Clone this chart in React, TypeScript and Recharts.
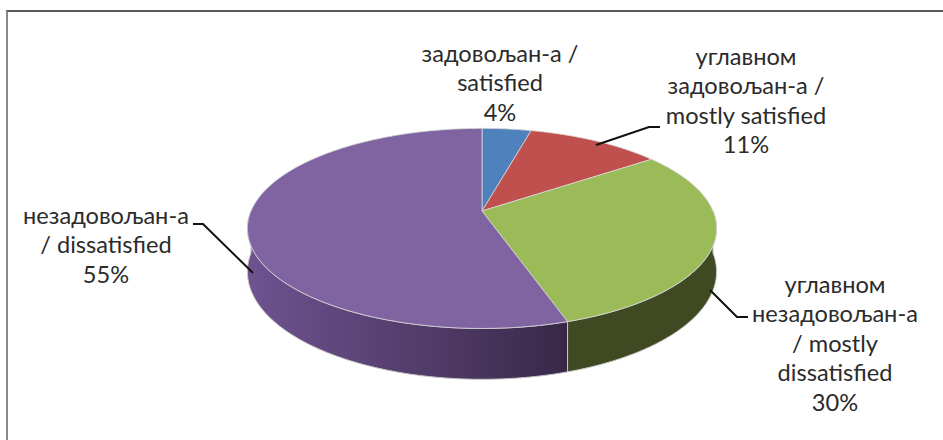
import { Pie, PieChart } from 'recharts';

const categories = [
  'задовољан-а / satisfied',
  'углавном задовољан-а / mostly satisfied',
  'углавном незадовољан-а / mostly dissatisfied',
  'незадовољан-а / dissatisfied',
];
const shares = [4, 11, 30, 55];
const topColors = ['#4f81bd', '#c0504d', '#9bbb59', '#8064a2'];
const sideFills = ['#2f4d71', '#73302e', '#3f4a22', 'url(#purpleSide)'];

const labelLines = [
  ['задовољан-а /', 'satisfied', '4%'],
  ['углавном', 'задовољан-а /', 'mostly satisfied', '11%'],
  ['углавном', 'незадовољан-а', '/ mostly', 'dissatisfied', '30%'],
  ['незадовољан-а', '/ dissatisfied', '55%'],
];
const labelAnchors = [
  { x: 500, y: 62 },
  { x: 746, y: 65 },
  { x: 835, y: 293 },
  { x: 106, y: 224 },
];
const leaders = ['', '596,145 649,127 660,127', '710,290 737,317 748,317', '253,273 203,224 193,224'];

const data = categories.map((name, i) => ({ name, value: shares[i], fill: topColors[i] }));

const WIDTH = 943;
const HEIGHT = 440;
const FLATTEN = 0.42; // how far the disc is tilted
const PERSPECTIVE = 0.174;
const DEPTH = 42;

// disc point for a pie angle, seen with some perspective so the near edge is bigger
function project(cx: number, cy: number, r: number, deg: number, drop = 0) {
  const a = (deg * Math.PI) / 180;
  const X = Math.cos(a);
  const Y = -Math.sin(a);
  const s = 1 / (1 - PERSPECTIVE * Y);
  return [cx + r * X * s, cy + (r * FLATTEN * Y + drop) * s];
}

function arcPoints(cx: number, cy: number, r: number, from: number, to: number, drop = 0) {
  const steps = Math.max(2, Math.ceil(Math.abs(to - from)));
  const pts: string[] = [];
  for (let i = 0; i <= steps; i++) {
    const [x, y] = project(cx, cy, r, from + ((to - from) * i) / steps, drop);
    pts.push(`${x.toFixed(2)},${y.toFixed(2)}`);
  }
  return pts;
}

function DiscSlice(props: any) {
  const { cx, cy, outerRadius, startAngle, endAngle, index } = props;
  const top = `M${cx},${cy} L${arcPoints(cx, cy, outerRadius, startAngle, endAngle).join(' L')} Z`;

  // only the part of the rim facing the viewer gets a side wall (angles -180..0)
  const hi = Math.min(startAngle, 0);
  const lo = Math.max(endAngle, -180);
  let side = null;
  if (hi > lo) {
    const upper = arcPoints(cx, cy, outerRadius, hi, lo);
    const lower = arcPoints(cx, cy, outerRadius, lo, hi, DEPTH);
    side = `M${upper.join(' L')} L${lower.join(' L')} Z`;
  }

  return (
    <g>
      {side && <path d={side} fill={sideFills[index]} stroke="#c9c9c9" strokeWidth={1} strokeLinejoin="round" />}
      <path d={top} fill={topColors[index]} stroke="#d8d8d8" strokeWidth={0.8} strokeLinejoin="round" />
    </g>
  );
}

function SliceLabel(props: any) {
  const { index } = props;
  const pos = labelAnchors[index];
  return (
    <g>
      {leaders[index] && <polyline points={leaders[index]} fill="none" stroke="#111" strokeWidth={2} />}
      <text textAnchor="middle" fontFamily="Lato, sans-serif" fontSize={23.6} fill="#2b2b2b">
        {labelLines[index].map((line, i) => (
          <tspan key={i} x={pos.x} y={pos.y + i * 29.4}>
            {line}
          </tspan>
        ))}
      </text>
    </g>
  );
}

export default function App() {
  return (
    <div style={{ position: 'absolute', left: 0, top: 0, width: WIDTH, height: HEIGHT, background: '#fff' }}>
      <div
        style={{
          position: 'absolute',
          left: 6,
          top: 10,
          width: WIDTH - 6,
          height: HEIGHT - 10,
          boxSizing: 'border-box',
          borderTop: '2px solid #5a5a5a',
          borderLeft: '2px solid #8a8a8a',
        }}
      />
      <PieChart width={WIDTH} height={HEIGHT} margin={{ top: 0, right: 0, bottom: 0, left: 0 }} style={{ position: 'absolute', left: 0, top: 0 }}>
        <defs>
          <linearGradient id="purpleSide" gradientUnits="userSpaceOnUse" x1="248" y1="0" x2="568" y2="0">
            <stop offset="0" stopColor="#6d5390" />
            <stop offset="0.55" stopColor="#523c69" />
            <stop offset="1" stopColor="#382848" />
          </linearGradient>
        </defs>
        <Pie
          data={data}
          dataKey="value"
          cx={482}
          cy={211}
          outerRadius={231}
          startAngle={90}
          endAngle={-270}
          paddingAngle={0}
          stroke="none"
          isAnimationActive={false}
          shape={DiscSlice}
          inactiveShape={DiscSlice}
          label={SliceLabel}
          labelLine={false}
        />
      </PieChart>
    </div>
  );
}
